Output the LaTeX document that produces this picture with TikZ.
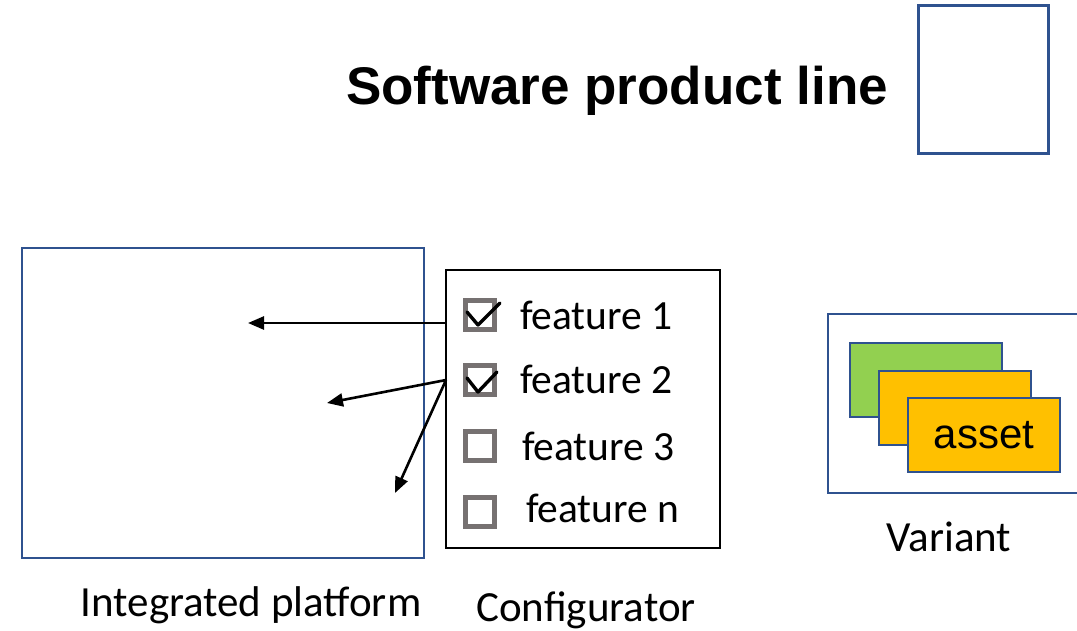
\documentclass[tikz,border=0pt]{standalone}
\usepackage{fontspec}
\setmainfont{Carlito}
\newfontfamily\arialfont{Liberation Sans}
\usetikzlibrary{arrows.meta}
\definecolor{boxblue}{HTML}{2F528F}
\definecolor{boxgray}{HTML}{767171}
\definecolor{leafgreen}{HTML}{92D050}
\definecolor{amber}{HTML}{FFC000}
\tikzset{
  frame/.style={draw=boxblue, line width=2.6pt},
  cbox/.style={draw=boxgray, line width=5pt, minimum size=29pt, inner sep=0pt},
  tick/.style={line width=3.4pt, line cap=round, line join=round},
  feat/.style={font=\fontsize{41.5}{46}\selectfont, anchor=west, inner sep=0pt},
  caption/.style={font=\fontsize{43}{48}\selectfont, inner sep=0pt},
  link/.style={line width=2.6pt, -{Triangle[length=16pt, width=13pt]}},
  card/.style={draw=boxblue, line width=2.6pt}
}
\begin{document}
\begin{tikzpicture}[x=1pt, y=-1pt]
\useasboundingbox (0,0) rectangle (1077,630);
\clip (0,0) rectangle (1077,630);

% title and the empty box beside it
\node[font=\arialfont\bfseries\fontsize{53}{60}\selectfont, inner sep=0pt] (title) at (617,91) {Software product line};
\node[frame, line width=3pt, minimum width=130pt, minimum height=148pt, inner sep=0pt] (spl) at (983,79) {};

% integrated platform
\node[frame, minimum width=402pt, minimum height=310pt, inner sep=0pt] (platform) at (223,403) {};
\node[caption] (platlbl) at (251,605) {Integrated platform};

% configurator
\node[draw, line width=2.6pt, minimum width=274pt, minimum height=278pt, inner sep=0pt] (config) at (583,409) {};
\node[caption] (conflbl) at (586,610) {Configurator};

\node[cbox] (c1) at (480,315) {};
\node[cbox] (c2) at (480,380) {};
\node[cbox] (c3) at (480,446) {};
\node[cbox] (c4) at (480,512) {};
\draw[tick] (467,312) -- (478,325) -- (500,303);
\draw[tick] (467,378) -- (478,392) -- (497,372);
\node[feat] (f1) at (520,315) {feature 1};
\node[feat] (f2) at (520,379) {feature 2};
\node[feat] (f3) at (522,446) {feature 3};
\node[feat] (f4) at (526,508) {feature n};

% selections mapped into the platform
\coordinate (s1) at (446,323);
\coordinate (s2) at (446,380);
\coordinate (t1) at (248,323);
\coordinate (t2) at (327,403);
\coordinate (t3) at (395,493);
\draw[link] (s1) -- (t1);
\draw[link] (s2) -- (t2);
\draw[link] (s2) -- (t3);

% variant with its assets
\draw[frame] (828,314) rectangle (1085,493);
\node[card, fill=leafgreen, minimum width=152pt, minimum height=74pt, inner sep=0pt] (a1) at (926,380) {};
\node[card, fill=amber, minimum width=152pt, minimum height=74pt, inner sep=0pt] (a2) at (955,408) {};
\node[card, fill=amber, minimum width=152pt, minimum height=74pt, inner sep=0pt, font=\arialfont\fontsize{42}{46}\selectfont] (a3) at (984,435) {asset};
\node[caption] (varlbl) at (949,537) {Variant};
\end{tikzpicture}
\end{document}
